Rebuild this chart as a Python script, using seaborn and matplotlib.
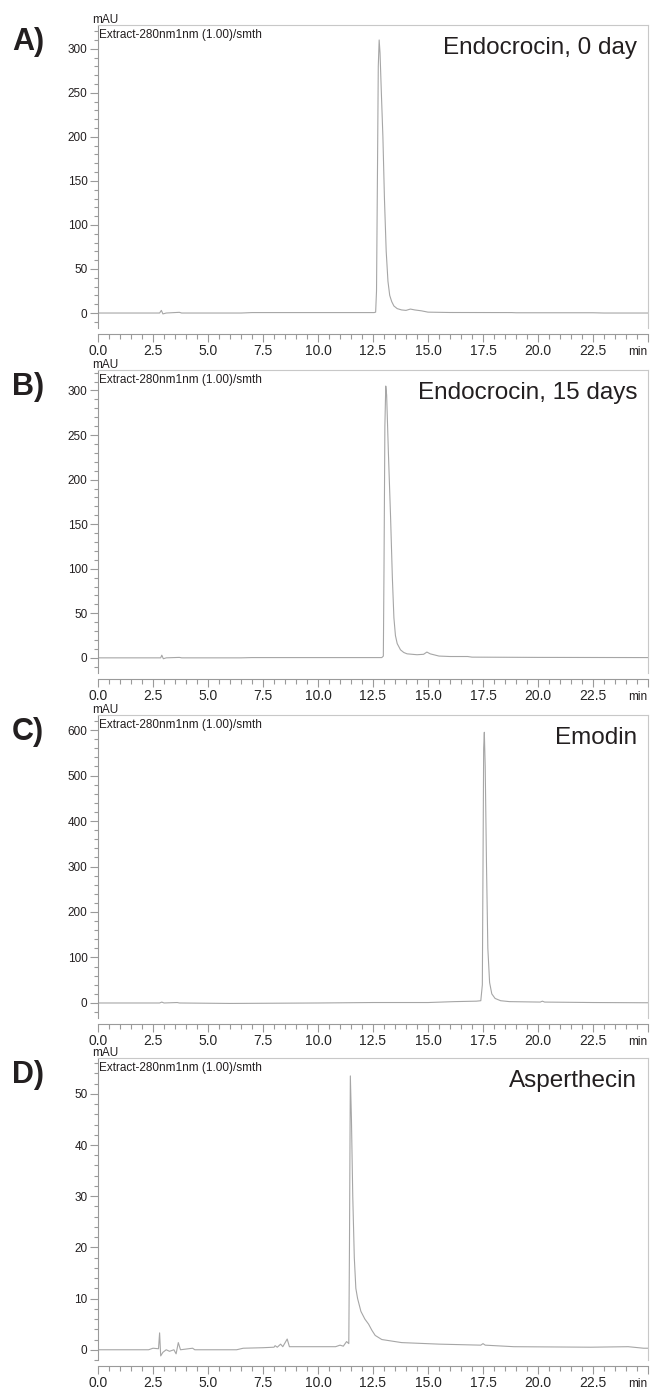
import matplotlib.pyplot as plt
from matplotlib.ticker import MultipleLocator
import seaborn as sns

a_tempo = [0.0, 2.5, 2.8, 2.88, 2.95, 3.1, 3.7, 3.8, 6.5, 7.0, 12.55, 12.62, 12.66, 12.70, 12.74,
           12.78, 12.82, 12.88, 12.95, 13.02, 13.10, 13.18, 13.26, 13.35, 13.45, 13.6, 13.8, 14.0,
           14.2, 14.4, 14.7, 15.0, 16.0, 18.8, 19.0, 22.5, 23.0, 25.0]
a_mau = [0.0, 0.0, 0.0, 3.0, -1.0, 0.0, 0.8, 0.0, 0.0, 0.5, 0.5, 1.0, 25, 150, 280,
         310, 295, 250, 200, 130, 70, 36, 20, 13, 8, 5, 3.5, 3.0,
         4.5, 3.5, 2.5, 1.0, 0.6, 0.5, 0.3, 0.3, 0.0, 0.0]

b_tempo = [0.0, 2.5, 2.85, 2.9, 2.97, 3.1, 3.7, 3.8, 6.5, 7.0, 12.9, 12.97, 13.0, 13.04, 13.08,
           13.12, 13.2, 13.3, 13.38, 13.45, 13.52, 13.6, 13.75, 13.9, 14.05, 14.5, 14.8, 14.95,
           15.1, 15.5, 16.0, 16.8, 17.0, 20.0, 25.0]
b_mau = [0.0, 0.0, 0.0, 3.0, -1.0, 0.0, 0.5, 0.0, 0.0, 0.3, 0.3, 2.0, 100, 260, 305,
         295, 230, 157, 90, 45, 25, 16, 9, 6, 4.5, 3.5, 4.0, 6.5,
         4.5, 2.0, 1.5, 1.5, 0.8, 0.5, 0.3]

c_tempo = [0.0, 2.8, 2.9, 3.0, 3.6, 3.7, 6.0, 10.0, 12.5, 15.0, 16.2, 17.2, 17.4, 17.47, 17.5,
           17.53, 17.56, 17.6, 17.66, 17.72, 17.8, 17.9, 18.05, 18.3, 18.7, 20.1, 20.2, 20.3,
           22.5, 25.0]
c_mau = [0.0, 0.0, 2.0, 0.0, 1.0, 0.0, -1.0, 0.0, 1.0, 1.0, 3.0, 4.0, 5.0, 40, 300,
         560, 595, 520, 300, 120, 45, 20, 10, 5, 3, 2, 4, 2,
         1.0, 0.5]

d_tempo = [0.0, 2.3, 2.5, 2.75, 2.8, 2.85, 2.95, 3.1, 3.25, 3.45, 3.55, 3.65, 3.75, 4.3, 4.4,
           6.3, 6.6, 7.5, 8.0, 8.05, 8.15, 8.3, 8.4, 8.6, 8.7, 10.8, 11.0, 11.15, 11.3, 11.4,
           11.43, 11.47, 11.52, 11.58, 11.65, 11.72, 11.8, 11.95, 12.13, 12.3, 12.45, 12.6, 12.9,
           13.8, 15.5, 17.4, 17.5, 17.6, 18.9, 22.4, 24.1, 24.8, 25.0]
d_mau = [0.0, 0.0, 0.3, 0.2, 3.3, -1.2, -0.5, 0.0, -0.3, 0.0, -0.8, 1.4, 0.0, 0.3, 0.0,
         0.0, 0.3, 0.4, 0.5, 0.8, 0.5, 1.1, 0.6, 2.1, 0.6, 0.6, 0.9, 0.7, 1.6, 1.2,
         20, 53.5, 45, 30, 18, 12, 10, 7.5, 6.0, 5.0, 3.8, 2.8, 2.0,
         1.4, 1.1, 0.9, 1.2, 0.9, 0.6, 0.5, 0.6, 0.3, 0.3]

letras = ['A)', 'B)', 'C)', 'D)']
compostos = ['Endocrocin, 0 day', 'Endocrocin, 15 days', 'Emodin', 'Asperthecin']
limites_y = [(-17, 327), (-17, 323), (-33, 633), (-2, 57)]
passos_y = [(50, 10), (50, 10), (100, 20), (10, 2)]
x_ticks = [0.0, 2.5, 5.0, 7.5, 10.0, 12.5, 15.0, 17.5, 20.0, 22.5, 25.0]
x_rotulos = ['0.0', '2.5', '5.0', '7.5', '10.0', '12.5', '15.0', '17.5', '20.0', '22.5', '']
titulo_canal = 'Extract-280nm1nm (1.00)/smth'


def main():
    sns.set_style('ticks')
    plt.rcParams['font.family'] = ['Liberation Sans', 'DejaVu Sans']
    fonte_estreita = ['Liberation Sans Narrow', 'Liberation Sans', 'DejaVu Sans']

    W, H = 650, 1390
    fig = plt.figure(figsize=(W / 100, H / 100), dpi=100)

    cor_texto = '#231f20'
    cor_linha = '#a6a6a6'
    esquerda, direita = 98, 648
    topos = [25, 370, 715, 1058]
    alturas = [303, 303, 303, 302]

    series = [(a_tempo, a_mau), (b_tempo, b_mau), (c_tempo, c_mau), (d_tempo, d_mau)]

    for i, (tempo, mau) in enumerate(series):
        topo = topos[i]
        altura = alturas[i]
        ax = fig.add_axes([esquerda / W, 1 - (topo + altura) / H,
                           (direita - esquerda) / W, altura / H])
        sns.lineplot(x=tempo, y=mau, ax=ax, color=cor_linha, linewidth=0.8,
                     estimator=None, sort=False)
        ax.set_xlim(0, 25)
        ax.set_ylim(*limites_y[i])
        ax.set_xlabel('')
        ax.set_ylabel('')

        maior, menor = passos_y[i]
        ax.yaxis.set_major_locator(MultipleLocator(maior))
        ax.yaxis.set_minor_locator(MultipleLocator(menor))
        ax.set_xticks(x_ticks, x_rotulos)
        ax.xaxis.set_minor_locator(MultipleLocator(0.5))

        for rot in ax.get_xticklabels() + ax.get_yticklabels():
            rot.set_family(fonte_estreita)
            rot.set_fontsize(8.5)
            rot.set_color(cor_texto)

        ax.tick_params(axis='both', which='both', color='#9a9a9a', width=0.8)
        ax.tick_params(axis='x', which='major', length=6, pad=1.5)
        ax.tick_params(axis='x', which='minor', length=3.5)
        ax.tick_params(axis='y', which='major', length=6, pad=1.5)
        ax.tick_params(axis='y', which='minor', length=3)

        for lado in ['top', 'right']:
            ax.spines[lado].set_color('#c8c8c8')
            ax.spines[lado].set_linewidth(0.8)
        for lado in ['left', 'bottom']:
            ax.spines[lado].set_color('#9a9a9a')
            ax.spines[lado].set_linewidth(0.8)
        ax.spines['bottom'].set_position(('outward', 4))

        # textos do painel
        fig.text(12 / W, 1 - (topo + 25) / H, letras[i], fontsize=22, fontweight='bold',
                 color=cor_texto, va='baseline', ha='left')
        fig.text(92 / W, 1 - (topo - 2) / H, 'mAU', fontsize=8.5, family=fonte_estreita,
                 color=cor_texto, va='baseline', ha='left')
        fig.text(99 / W, 1 - (topo + 13) / H, titulo_canal, fontsize=8.5, family=fonte_estreita,
                 color=cor_texto, va='baseline', ha='left')
        fig.text(637 / W, 1 - (topo + 29) / H, compostos[i], fontsize=17.5,
                 color=cor_texto, va='baseline', ha='right')
        # unidade do eixo x no lugar do ultimo rotulo
        fig.text(647 / W, 1 - (topo + altura + 27) / H, 'min', fontsize=8.5,
                 family=fonte_estreita, color=cor_texto, va='baseline', ha='right')

    fig.savefig('out.png', dpi=100)
    print("Figura 'out.png' salva com sucesso.")


if __name__ == '__main__':
    main()
